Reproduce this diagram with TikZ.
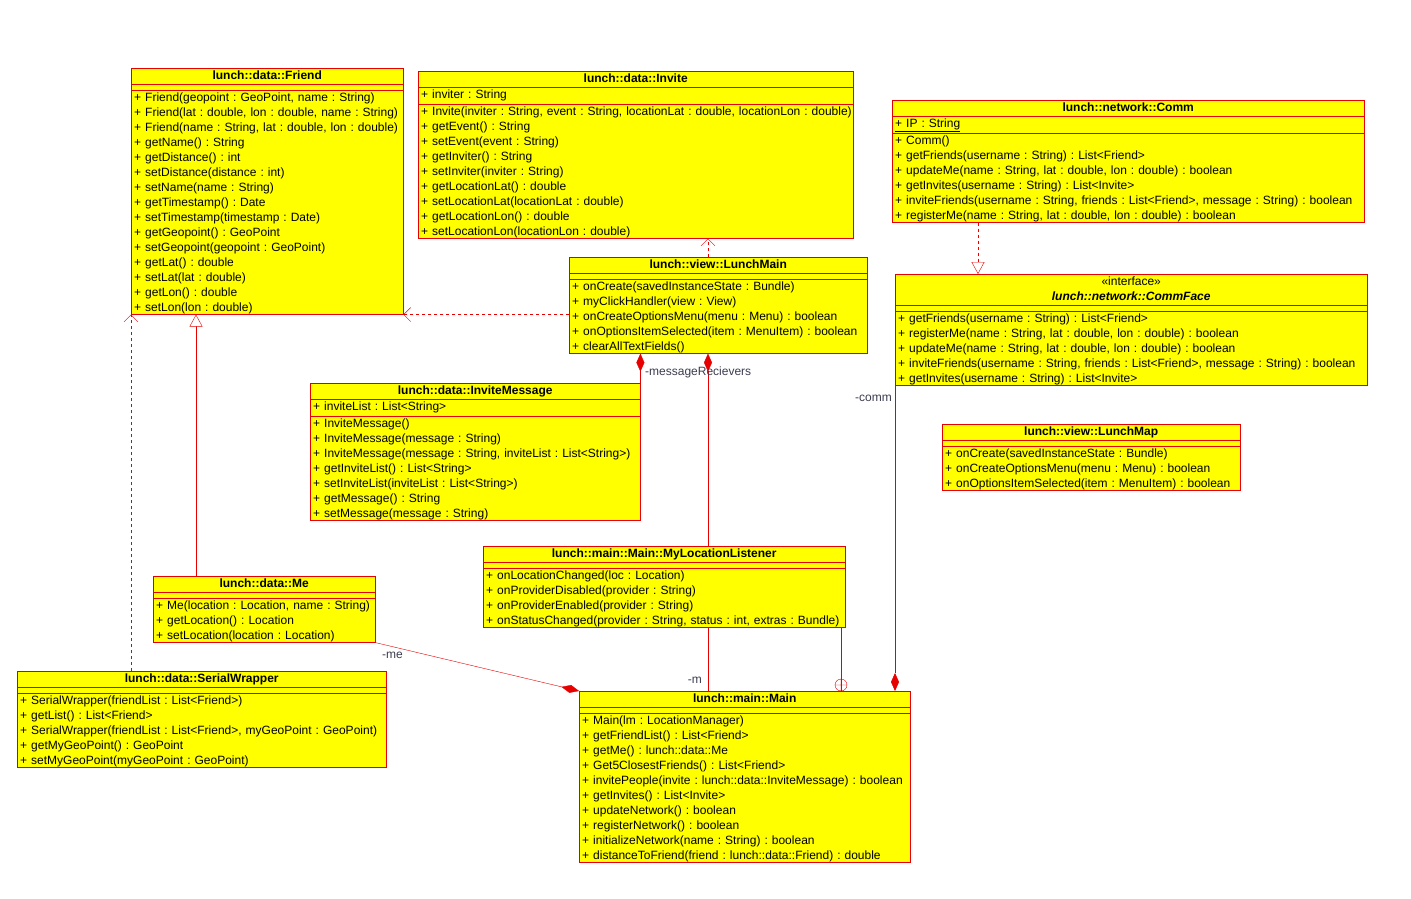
\documentclass[tikz,border=0pt]{standalone}
\usepackage{fontspec}
\setmainfont{Liberation Sans}
\frenchspacing
\usetikzlibrary{shapes.multipart,arrows.meta,backgrounds}
\definecolor{umlred}{RGB}{230,0,0}
\definecolor{umlyellow}{RGB}{255,255,0}
\definecolor{umllabel}{RGB}{60,60,80}
\newcommand{\umlfont}{\fontsize{12}{15}\selectfont\frenchspacing}
\newcommand{\cenline}[1]{\hbox to \hsize{\hfil\strut#1\hfil}}
\newcommand{\ctitle}[1]{\cenline{\textbf{#1}}}

\tikzset{
  umlclass/.style={rectangle split, rectangle split parts=3, draw=umlred, fill=umlyellow,
    font=\umlfont, inner xsep=3pt, inner ysep=0.5pt, anchor=north west,
    rectangle split part align={left,left,left}},
  umlline/.style={umlred, thin},
  roletext/.style={font=\umlfont, text=umllabel, inner sep=1pt},
  usearrow/.style={umlline, dashed, -{Straight Barb[length=7pt,width=14pt,open]}},
  inherit/.style={umlline, -{Triangle[open,length=12pt,width=13pt,fill=white]}},
  realize/.style={umlline, dashed, -{Triangle[open,length=12pt,width=13pt,fill=white]}},
  owns/.style={umlline, -{Diamond[length=18pt,width=8pt]}}
}

\begin{document}
\begin{tikzpicture}[x=1pt,y=-1pt]
  \useasboundingbox (0,0) rectangle (1411,899);

  % classes
  \node[umlclass, text width=266pt] (Friend) at (131,68) {\ctitle{lunch::data::Friend}
    \nodepart{second}\rule{0pt}{4pt}
    \nodepart{third}\strut+ Friend(geopoint : GeoPoint, name : String)\\
    + Friend(lat : double, lon : double, name : String)\\
    + Friend(name : String, lat : double, lon : double)\\
    + getName() : String\\
    + getDistance() : int\\
    + setDistance(distance : int)\\
    + setName(name : String)\\
    + getTimestamp() : Date\\
    + setTimestamp(timestamp : Date)\\
    + getGeopoint() : GeoPoint\\
    + setGeopoint(geopoint : GeoPoint)\\
    + getLat() : double\\
    + setLat(lat : double)\\
    + getLon() : double\\
    + setLon(lon : double)};

  \node[umlclass, text width=429pt] (Invite) at (418,71) {\ctitle{lunch::data::Invite}
    \nodepart{second}\strut+ inviter : String
    \nodepart{third}\strut\mbox{+ Invite(inviter : String, event : String, locationLat : double, locationLon : double)}\\
    + getEvent() : String\\
    + setEvent(event : String)\\
    + getInviter() : String\\
    + setInviter(inviter : String)\\
    + getLocationLat() : double\\
    + setLocationLat(locationLat : double)\\
    + getLocationLon() : double\\
    + setLocationLon(locationLon : double)};

  \node[umlclass, text width=466pt] (Comm) at (892,100) {\ctitle{lunch::network::Comm}
    \nodepart{second}\strut\underline{+ IP : String}
    \nodepart{third}\strut+ Comm()\\
    + getFriends(username : String) : List<Friend>\\
    + updateMe(name : String, lat : double, lon : double) : boolean\\
    + getInvites(username : String) : List<Invite>\\
    + inviteFriends(username : String, friends : List<Friend>, message : String) : boolean\\
    + registerMe(name : String, lat : double, lon : double) : boolean};

  \node[umlclass, text width=466pt] (CommFace) at (895,274) {\cenline{«interface»}\\\cenline{\textbf{\textit{lunch::network::CommFace}}}
    \nodepart{second}\rule{0pt}{4pt}
    \nodepart{third}\strut+ getFriends(username : String) : List<Friend>\\
    + registerMe(name : String, lat : double, lon : double) : boolean\\
    + updateMe(name : String, lat : double, lon : double) : boolean\\
    + inviteFriends(username : String, friends : List<Friend>, message : String) : boolean\\
    + getInvites(username : String) : List<Invite>};

  \node[umlclass, text width=292pt] (LunchMain) at (569,257) {\ctitle{lunch::view::LunchMain}
    \nodepart{second}\rule{0pt}{4pt}
    \nodepart{third}\strut+ onCreate(savedInstanceState : Bundle)\\
    + myClickHandler(view : View)\\
    + onCreateOptionsMenu(menu : Menu) : boolean\\
    + onOptionsItemSelected(item : MenuItem) : boolean\\
    + clearAllTextFields()};

  \node[umlclass, text width=324pt] (InviteMessage) at (310,383) {\ctitle{lunch::data::InviteMessage}
    \nodepart{second}\strut+ inviteList : List<String>
    \nodepart{third}\strut+ InviteMessage()\\
    + InviteMessage(message : String)\\
    + InviteMessage(message : String, inviteList : List<String>)\\
    + getInviteList() : List<String>\\
    + setInviteList(inviteList : List<String>)\\
    + getMessage() : String\\
    + setMessage(message : String)};

  \node[umlclass, text width=292pt] (LunchMap) at (942,424) {\ctitle{lunch::view::LunchMap}
    \nodepart{second}\rule{0pt}{4pt}
    \nodepart{third}\strut+ onCreate(savedInstanceState : Bundle)\\
    + onCreateOptionsMenu(menu : Menu) : boolean\\
    + onOptionsItemSelected(item : MenuItem) : boolean};

  \node[umlclass, text width=356pt] (Listener) at (483,546) {\ctitle{lunch::main::Main::MyLocationListener}
    \nodepart{second}\rule{0pt}{4pt}
    \nodepart{third}\strut+ onLocationChanged(loc : Location)\\
    + onProviderDisabled(provider : String)\\
    + onProviderEnabled(provider : String)\\
    + onStatusChanged(provider : String, status : int, extras : Bundle)};

  \node[umlclass, text width=216pt] (Me) at (153,576) {\ctitle{lunch::data::Me}
    \nodepart{second}\rule{0pt}{4pt}
    \nodepart{third}\strut+ Me(location : Location, name : String)\\
    + getLocation() : Location\\
    + setLocation(location : Location)};

  \node[umlclass, text width=363pt] (SerialWrapper) at (17,671) {\ctitle{lunch::data::SerialWrapper}
    \nodepart{second}\rule{0pt}{4pt}
    \nodepart{third}\strut+ SerialWrapper(friendList : List<Friend>)\\
    + getList() : List<Friend>\\
    + SerialWrapper(friendList : List<Friend>, myGeoPoint : GeoPoint)\\
    + getMyGeoPoint() : GeoPoint\\
    + setMyGeoPoint(myGeoPoint : GeoPoint)};

  \node[umlclass, text width=325pt] (Main) at (579,691) {\ctitle{lunch::main::Main}
    \nodepart{second}\rule{0pt}{4pt}
    \nodepart{third}\strut+ Main(lm : LocationManager)\\
    + getFriendList() : List<Friend>\\
    + getMe() : lunch::data::Me\\
    + Get5ClosestFriends() : List<Friend>\\
    + invitePeople(invite : lunch::data::InviteMessage) : boolean\\
    + getInvites() : List<Invite>\\
    + updateNetwork() : boolean\\
    + registerNetwork() : boolean\\
    + initializeNetwork(name : String) : boolean\\
    + distanceToFriend(friend : lunch::data::Friend) : double};

  % connectors
  \draw[usearrow] (LunchMain.west |- Friend.south east) -- (Friend.south east);
  \draw[usearrow] (LunchMain.north west) ++(139,0) coordinate (lmTop) -- (lmTop |- Invite.south);
  \draw[realize] (Comm.south west) ++(86,0) coordinate (cmBot) -- (cmBot |- CommFace.north);
  \draw[inherit] (Me.north west) ++(43,0) coordinate (meTop) -- (meTop |- Friend.south);
  \draw[usearrow] (SerialWrapper.north west) ++(114,0) coordinate (swTop) -- (swTop |- Friend.south);
  \draw[owns] (Me.south east) -- (Main.north west);
  \node[roletext, anchor=west] (meRole) at (381,655) {-me};
  \begin{scope}[on background layer]
    \draw[owns] (Main.north west) ++(129,0) coordinate (mnTop) -- (mnTop |- LunchMain.south);
  \end{scope}
  \node[roletext, anchor=east] (mRole) at (703,680) {-m};
  \draw[owns] (InviteMessage.north east) -- (InviteMessage.north east |- LunchMain.south);
  \node[roletext, anchor=west] (msgRole) at (644,372) {-messageRecievers};
  \draw[owns] (CommFace.south west) -- (CommFace.south west |- Main.north);
  \node[roletext, anchor=east] (commRole) at (893,398) {-comm};
  \draw[umlline] (Main.north west) ++(262,0) coordinate (inTop) -- (inTop |- Listener.south);
  \draw[umlline] (inTop) ++(0,-6) circle (6pt) ++(-6,0) -- ++(12,0) (inTop) -- ++(0,-12);
\end{tikzpicture}
\end{document}
